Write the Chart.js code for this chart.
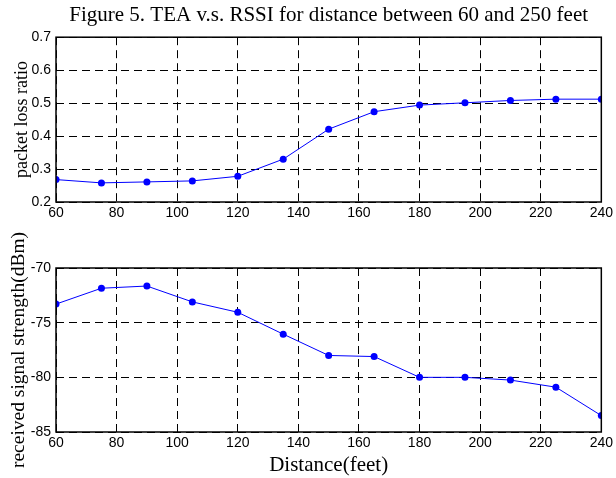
<!DOCTYPE html>
<html>
<head>
<meta charset="utf-8">
<script src="https://cdn.jsdelivr.net/npm/chart.js@4/dist/chart.umd.min.js"></script>
<style>
  body { margin: 0; background: #fff; }
  #wrap { position: relative; width: 616px; height: 478px; }
  .box { position: absolute; left: 0; width: 616px; }
</style>
</head>
<body>
<div id="wrap">
  <div class="box" style="top:0;height:230px"><canvas id="lossChart"></canvas></div>
  <div class="box" style="top:230px;height:248px"><canvas id="rssiChart"></canvas></div>
</div>
<script>
'use strict';

// data
var distance = [60, 75, 90, 105, 120, 135, 150, 165, 180, 195, 210, 225, 240];
var lossRatio = [0.268, 0.258, 0.261, 0.264, 0.278, 0.330, 0.421, 0.474, 0.494, 0.501, 0.508, 0.512, 0.512];
var rssi = [-73.3, -71.85, -71.65, -73.1, -74.05, -76.05, -78.0, -78.1, -80.0, -80.0, -80.25, -80.9, -83.5];
var xTicks = [60, 80, 100, 120, 140, 160, 180, 200, 220, 240];
var lossTicks = [0.2, 0.3, 0.4, 0.5, 0.6, 0.7];
var rssiTicks = [-85, -80, -75, -70];

var tickFont = { family: 'Liberation Sans, Arial, sans-serif', size: 14 };
var serif = 'Liberation Serif, Times New Roman, serif';

// matlab style full frame round the plot
var frame = {
    id: 'frame',
    afterDatasetsDraw: function (chart) {
        var a = chart.chartArea, c = chart.ctx;
        c.save();
        c.strokeStyle = '#000';
        c.lineWidth = 1.5;
        c.setLineDash([]);
        c.strokeRect(a.left, a.top, a.right - a.left, a.bottom - a.top);
        c.restore();
    }
};

function pts(ys) {
    return distance.map(function (d, i) { return { x: d, y: ys[i] }; });
}

var grid = { color: '#000', lineWidth: 1, drawTicks: false };

function makeChart(id, ys, yTicks, decimals, yTitle, yTitleSize, yTitlePad, xTitle, title, xAxisH, padTop) {
    var ctx = document.getElementById(id).getContext('2d');
    return new Chart(ctx, {
        type: 'line',
        data: {
            datasets: [{
                data: pts(ys),
                borderColor: '#0000ff',
                backgroundColor: '#0000ff',
                borderWidth: 1,
                pointRadius: 3.5,
                pointBorderWidth: 0,
                tension: 0
            }]
        },
        options: {
            responsive: true,
            maintainAspectRatio: false,
            animation: false,
            layout: { padding: { top: padTop, right: 14, left: 0, bottom: 0 } },
            plugins: {
                legend: { display: false },
                tooltip: { enabled: false },
                title: {
                    display: !!title,
                    text: title,
                    fullSize: false,
                    color: '#000',
                    font: { family: serif, size: 21, weight: 'normal' },
                    padding: { top: 3, bottom: 9 }
                }
            },
            scales: {
                x: {
                    type: 'linear',
                    min: xTicks[0],
                    max: xTicks[xTicks.length - 1],
                    afterBuildTicks: function (s) { s.ticks = xTicks.map(function (v) { return { value: v }; }); },
                    afterFit: function (s) { s.height = xAxisH; },
                    border: { display: false, dash: [8, 5] },
                    grid: grid,
                    ticks: { color: '#000', font: tickFont, padding: 3, maxRotation: 0 },
                    title: {
                        display: !!xTitle,
                        text: xTitle,
                        color: '#000',
                        font: { family: serif, size: 21 },
                        padding: { top: 0, bottom: 0 }
                    }
                },
                y: {
                    min: yTicks[0],
                    max: yTicks[yTicks.length - 1],
                    afterBuildTicks: function (s) { s.ticks = yTicks.map(function (v) { return { value: v }; }); },
                    afterFit: function (s) { s.width = 56; },
                    border: { display: false, dash: [8, 5] },
                    grid: grid,
                    ticks: {
                        color: '#000', font: tickFont, padding: 5,
                        callback: function (v) { return v.toFixed(decimals); }
                    },
                    title: {
                        display: true,
                        text: yTitle,
                        color: '#000',
                        font: { family: serif, size: yTitleSize },
                        padding: { top: yTitlePad, bottom: 0 }
                    }
                }
            }
        },
        plugins: [frame]
    });
}

var chart1 = makeChart('lossChart', lossRatio, lossTicks, 1, 'packet loss ratio', 18, 11, '',
    'Figure 5. TEA v.s. RSSI for distance between 60 and 250 feet', 28, 0);
var chart2 = makeChart('rssiChart', rssi, rssiTicks, 0, 'received signal strength(dBm)', 19.5, 7, 'Distance(feet)',
    '', 46, 38);
</script>
</body>
</html>
